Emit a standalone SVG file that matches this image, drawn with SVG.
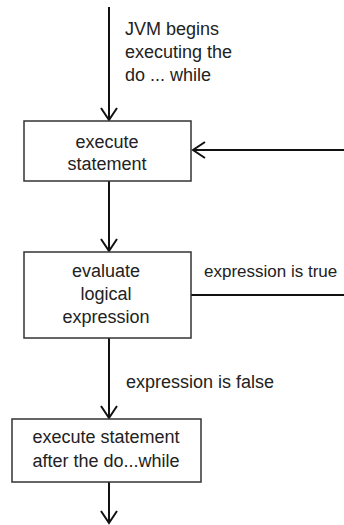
<svg xmlns="http://www.w3.org/2000/svg" width="344" height="525" viewBox="0 0 344 525">
  <style>
    .box { fill: #ffffff; stroke: #333333; stroke-width: 1.5; }
    .lbl { font-family: "Liberation Sans", Arial, sans-serif; font-size: 18px; fill: #222222; }
    .mid { text-anchor: middle; }
    .small { font-size: 17px; }
    .edge { stroke: #111111; stroke-width: 2; fill: none; }
  </style>
  <defs>
    <!-- open V arrowhead, tip at the end of the line -->
    <marker id="vhead" viewBox="-1 -10 15 20" refX="12" refY="0" markerWidth="15" markerHeight="20" markerUnits="userSpaceOnUse" orient="auto" overflow="visible">
      <path d="M0,-8 L12,0 L0,8" fill="none" stroke="#111111" stroke-width="2"/>
    </marker>
  </defs>
  <rect width="344" height="525" fill="#ffffff"/>

  <g id="connectors">
    <line class="edge" x1="109" y1="7" x2="109" y2="120" marker-end="url(#vhead)"/>
    <line class="edge" x1="109" y1="181" x2="109" y2="251" marker-end="url(#vhead)"/>
    <line class="edge" x1="109" y1="338" x2="109" y2="418" marker-end="url(#vhead)"/>
    <line class="edge" x1="109" y1="482" x2="109" y2="523" marker-end="url(#vhead)"/>
    <!-- loop back: true branch leaves to the right, returns into the statement box -->
    <line class="edge" x1="191" y1="295" x2="344" y2="295"/>
    <line class="edge" x1="344" y1="150" x2="193" y2="150" marker-end="url(#vhead)"/>
    <text class="lbl" x="125" y="35">JVM begins</text>
    <text class="lbl" x="125" y="58">executing the</text>
    <text class="lbl" x="125" y="81">do ... while</text>
    <text class="lbl small" x="204" y="277">expression is true</text>
    <text class="lbl" x="126" y="388">expression is false</text>
  </g>

  <g id="execute-statement">
    <rect class="box" x="24" y="121" width="167" height="60"/>
    <text class="lbl mid" x="107" y="148">execute</text>
    <text class="lbl mid" x="107" y="170">statement</text>
  </g>

  <g id="evaluate-expression">
    <rect class="box" x="24" y="252" width="167" height="86"/>
    <text class="lbl mid" x="106" y="277">evaluate</text>
    <text class="lbl mid" x="106" y="300">logical</text>
    <text class="lbl mid" x="106" y="323">expression</text>
  </g>

  <g id="after-loop">
    <rect class="box" x="12" y="419" width="189" height="63"/>
    <text class="lbl mid" x="106" y="443">execute statement</text>
    <text class="lbl mid" x="106" y="467">after the do...while</text>
  </g>
</svg>
